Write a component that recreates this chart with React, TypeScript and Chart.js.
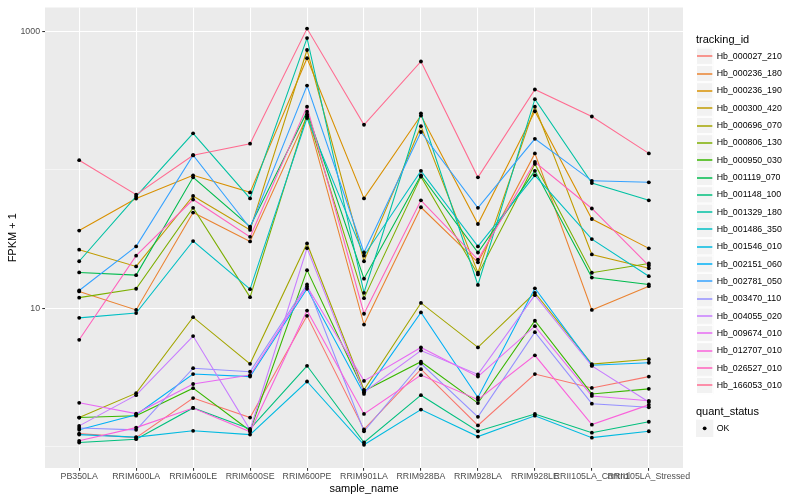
import React, { useEffect, useRef } from "react";
import { Chart, registerables } from "chart.js";

Chart.register(...registerables);

const FONT = "'Liberation Sans', Arial, Helvetica, sans-serif";

const categories = [
  "PB350LA",
  "RRIM600LA",
  "RRIM600LE",
  "RRIM600SE",
  "RRIM600PE",
  "RRIM901LA",
  "RRIM928BA",
  "RRIM928LA",
  "RRIM928LE",
  "RRII105LA_Control",
  "RRII105LA_Stressed",
];

const seriesNames = [
  "Hb_000027_210",
  "Hb_000236_180",
  "Hb_000236_190",
  "Hb_000300_420",
  "Hb_000696_070",
  "Hb_000806_130",
  "Hb_000950_030",
  "Hb_001119_070",
  "Hb_001148_100",
  "Hb_001329_180",
  "Hb_001486_350",
  "Hb_001546_010",
  "Hb_002151_060",
  "Hb_002781_050",
  "Hb_003470_110",
  "Hb_004055_020",
  "Hb_009674_010",
  "Hb_012707_010",
  "Hb_026527_010",
  "Hb_166053_010",
];

const seriesColors = [
  "#F8766D", "#EA8331", "#D89000", "#C09B00", "#A3A500",
  "#7CAE00", "#39B600", "#00BB4E", "#00BF7D", "#00C1A3",
  "#00BFC4", "#00BAE0", "#00B0F6", "#35A2FF", "#9590FF",
  "#C77CFF", "#E76BF3", "#FA62DB", "#FF62BC", "#FF6C91",
];

const hb_000027_210 = [1.24, 1.16, 2.24, 1.62, 8.8, 1.33, 3.62, 1.42, 3.34, 2.65, 3.2];
const hb_000236_180 = [13.2, 9.7, 49, 30.3, 243, 7.6, 53.5, 21.4, 131, 9.7, 14.4];
const hb_000236_190 = [36.3, 61.8, 91, 68.5, 638, 62, 246, 40.5, 264, 44, 27];
const hb_000300_420 = [26.4, 20, 64.5, 36.7, 731, 21.8, 206, 18, 285, 24.4, 19.4];
const hb_000696_070 = [1.62, 2.43, 8.6, 3.96, 29.3, 2.57, 10.9, 5.2, 12.9, 3.94, 4.27];
const hb_000806_130 = [11.9, 13.8, 53, 12, 251, 11.8, 89, 17.5, 110, 18, 21];
const hb_000950_030 = [1.62, 1.67, 2.64, 1.3, 18.8, 2.52, 4.1, 2.06, 8.1, 2.4, 2.61];
const hb_001119_070 = [18.1, 17.3, 88, 38.7, 262, 16.3, 91, 25.2, 98, 16.6, 14.8];
const hb_001148_100 = [1.07, 1.13, 1.9, 1.34, 3.83, 1.07, 2.35, 1.29, 1.72, 1.26, 1.51];
const hb_001329_180 = [21.8, 64, 183, 62, 891, 12.9, 255, 14.7, 323, 80, 60];
const hb_001486_350 = [8.5, 9.2, 30.5, 13.7, 236, 23.9, 98, 27.9, 91, 31.5, 17];
const hb_001546_010 = [1.22, 1.17, 1.3, 1.22, 2.95, 1.03, 1.85, 1.18, 1.67, 1.16, 1.29];
const hb_002151_060 = [1.32, 1.7, 3.34, 3.2, 13.8, 2.4, 9.3, 2.26, 13.9, 3.87, 4.03];
const hb_002781_050 = [13.4, 27.9, 127, 37.9, 405, 25.2, 187, 53, 167, 83, 81];
const hb_003470_110 = [1.36, 1.32, 3.68, 3.47, 14.8, 1.29, 3.98, 1.64, 6.7, 2.04, 1.92];
const hb_004055_020 = [1.41, 2.35, 6.28, 1.32, 27.1, 2.47, 4.93, 3.32, 12.4, 3.82, 2.1];
const hb_009674_010 = [2.07, 1.73, 2.83, 3.28, 14.3, 2.98, 5.2, 3.2, 7.4, 2.32, 2.14];
const hb_012707_010 = [1.1, 1.37, 1.9, 1.28, 9.6, 1.72, 3.28, 2.18, 4.56, 1.44, 2.0];
const hb_026527_010 = [5.9, 23.9, 60.8, 32.7, 285, 9.1, 60, 22.4, 113.5, 52.4, 20.3];
const hb_166053_010 = [117, 66, 127, 154, 1045, 211, 604, 88, 379, 242, 131];

const seriesValues = [
  hb_000027_210, hb_000236_180, hb_000236_190, hb_000300_420, hb_000696_070,
  hb_000806_130, hb_000950_030, hb_001119_070, hb_001148_100, hb_001329_180,
  hb_001486_350, hb_001546_010, hb_002151_060, hb_002781_050, hb_003470_110,
  hb_004055_020, hb_009674_010, hb_012707_010, hb_026527_010, hb_166053_010,
];

const yGridValues = [1, 10, 100, 1000];
const yLabelValues = [10, 1000];
const quantStatus = ["OK"];

const Y_MIN = 0.7315;
const Y_MAX = 1483;

const bgPlugin = {
  id: "ggBackground",
  beforeDraw(chart: any) {
    const { ctx, chartArea } = chart;
    ctx.save();
    ctx.fillStyle = "#FFFFFF";
    ctx.fillRect(0, 0, chart.width, chart.height);
    ctx.fillStyle = "#EBEBEB";
    ctx.fillRect(chartArea.left, chartArea.top, chartArea.right - chartArea.left, chartArea.bottom - chartArea.top);
    ctx.restore();
  },
};

const legendPlugin = {
  id: "ggLegend",
  afterDraw(chart: any) {
    const ctx = chart.ctx;
    ctx.save();
    const x0 = 696;
    const key = 17.33;
    ctx.textBaseline = "middle";
    ctx.textAlign = "left";
    ctx.fillStyle = "#000000";
    ctx.font = `11px ${FONT}`;
    ctx.fillText("tracking_id", x0, 40);
    const top = 56.2 - key / 2;
    seriesNames.forEach((name, i) => {
      const y = top + i * key;
      const yc = y + key / 2;
      ctx.fillStyle = "#F2F2F2";
      ctx.fillRect(x0, y, key, key);
      ctx.strokeStyle = "#FFFFFF";
      ctx.lineWidth = 1;
      ctx.strokeRect(x0 + 0.5, y + 0.5, key - 1, key - 1);
      const yl = Math.round(yc);
      ctx.strokeStyle = seriesColors[i];
      ctx.lineWidth = 1.5;
      ctx.beginPath();
      ctx.moveTo(x0 + 1, yl);
      ctx.lineTo(x0 + key - 1, yl);
      ctx.stroke();
      ctx.fillStyle = "#000000";
      ctx.font = `8.8px ${FONT}`;
      ctx.fillText(name, x0 + key + 3.4, yc);
    });
    ctx.font = `11px ${FONT}`;
    ctx.fillStyle = "#000000";
    ctx.fillText("quant_status", x0, 411.7);
    quantStatus.forEach((s, i) => {
      const yc = 428.3 + i * key;
      ctx.fillStyle = "#F2F2F2";
      ctx.fillRect(x0, yc - key / 2, key, key);
      ctx.fillStyle = "#000000";
      ctx.beginPath();
      ctx.arc(x0 + key / 2, yc, 1.9, 0, Math.PI * 2);
      ctx.fill();
      ctx.font = `8.8px ${FONT}`;
      ctx.fillText(s, x0 + key + 3.4, yc);
    });
    ctx.restore();
  },
};

export default function App() {
  const canvasRef = useRef<HTMLCanvasElement | null>(null);

  useEffect(() => {
    if (!canvasRef.current) return;
    const lineSets = seriesValues.map((vals, i) => ({
      type: "line" as const,
      label: seriesNames[i],
      data: vals.map((v, j) => ({ x: j, y: v })),
      borderColor: seriesColors[i],
      backgroundColor: seriesColors[i],
      borderWidth: 1.07,
      pointRadius: 0,
      pointHoverRadius: 0,
      tension: 0,
      fill: false,
      order: 100 - i,
    }));
    const pointSets = seriesValues.map((vals, i) => ({
      type: "line" as const,
      label: seriesNames[i] + " points",
      data: vals.map((v, j) => ({ x: j, y: v })),
      showLine: false,
      pointRadius: 1.9,
      pointHoverRadius: 1.9,
      pointBorderWidth: 0,
      pointBackgroundColor: "#000000",
      pointBorderColor: "#000000",
      order: 0,
    }));

    const chart = new Chart(canvasRef.current, {
      type: "line",
      data: { datasets: [...lineSets, ...pointSets] as any },
      plugins: [bgPlugin, legendPlugin],
      options: {
        responsive: false,
        animation: false,
        events: [],
        layout: { padding: { top: 5, right: 117, left: 0, bottom: 0 } },
        plugins: {
          legend: { display: false },
          tooltip: { enabled: false },
        },
        scales: {
          x: {
            type: "linear",
            min: -0.6,
            max: 10.6,
            afterBuildTicks: (s: any) => {
              s.ticks = categories.map((_, i) => ({ value: i }));
            },
            afterFit: (s: any) => {
              s.height = 32;
            },
            grid: {
              color: "#FFFFFF",
              lineWidth: 1.07,
              tickColor: "#333333",
              tickLength: 2.75,
              tickWidth: 1.07,
            },
            border: { display: false },
            ticks: {
              callback: (v: any) => categories[v as number] ?? "",
              autoSkip: false,
              maxRotation: 0,
              minRotation: 0,
              padding: 0.5,
              color: "#4D4D4D",
              font: { family: FONT, size: 8.8 },
            },
            title: {
              display: true,
              text: "sample_name",
              color: "#000000",
              font: { family: FONT, size: 11 },
              padding: { top: 0, bottom: 4.5 },
            },
          },
          y: {
            type: "logarithmic",
            min: Y_MIN,
            max: Y_MAX,
            afterBuildTicks: (s: any) => {
              s.ticks = yGridValues.map((v) => ({ value: v }));
            },
            afterFit: (s: any) => {
              s.width = 45;
            },
            grid: {
              color: "#FFFFFF",
              lineWidth: (c: any) => (yLabelValues.includes(c.tick?.value) ? 1.07 : 0.53),
              tickColor: (c: any) => (yLabelValues.includes(c.tick?.value) ? "#333333" : "rgba(0,0,0,0)"),
              tickLength: 2.75,
              tickWidth: 1.07,
            },
            border: { display: false },
            ticks: {
              callback: (v: any) => (yLabelValues.includes(v as number) ? String(v) : ""),
              padding: 2.2,
              color: "#4D4D4D",
              font: { family: FONT, size: 8.8 },
            },
            title: {
              display: true,
              text: "FPKM + 1",
              color: "#000000",
              font: { family: FONT, size: 11 },
              padding: { top: 6.5, bottom: 0 },
            },
          },
        },
      } as any,
    });
    return () => chart.destroy();
  }, []);

  return (
    <div style={{ position: "fixed", left: 0, top: 0, width: 800, height: 500, background: "#FFFFFF" }}>
      <canvas ref={canvasRef} width={800} height={500} style={{ display: "block", width: 800, height: 500 }} />
    </div>
  );
}
